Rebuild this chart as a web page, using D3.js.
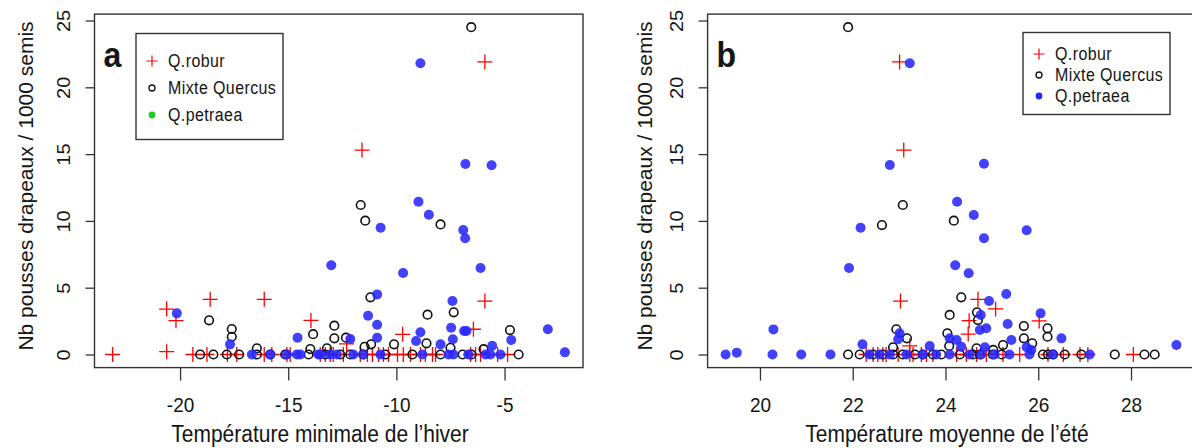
<!DOCTYPE html>
<html>
<head>
<meta charset="utf-8">
<script src="https://cdn.jsdelivr.net/npm/d3@7"></script>
<style>
  body { margin: 0; background: #fff; }
  svg text { font-family: "Liberation Sans", Arial, sans-serif; fill: #151515; }
</style>
</head>
<body>
<svg id="chart" width="1192" height="448"></svg>
<script>
// winter minimum temperature panel (a): [temperature, count]
var winterRobur = [
  [-23.12,0],[-20.62,0.21],[-20.62,3.4],[-20.19,2.53],[-18.61,4.13],[-16.11,4.13],[-13.95,2.55],
  [-11.59,15.3],[-5.91,21.9],[-5.91,4.0],[-6.44,1.89],[-9.71,1.51],[-12.3,0.8],
  [-19.41,0],[-18.76,0],[-17.81,0],[-17.38,0],[-16.11,0],[-15.76,0],[-15.06,0],[-14.91,0],
  [-13.29,0],[-13.06,0],[-13.52,0],[-12.92,0],[-12.45,0],[-11.67,0],[-11.34,0],[-11.11,0],
  [-10.83,0],[-10.6,0],[-10.37,0],[-9.95,0],[-9.68,0],[-9.35,0],[-8.89,0],[-8.66,0],[-8.33,0],
  [-8.19,0],[-6.57,0],[-6.34,0],[-6.11,0],[-5.32,0],[-4.86,0]
];
var winterMixte = [
  [-6.54,24.5],[-11.65,11.19],[-11.44,10.02],[-7.96,9.74],[-11.2,4.28],[-7.35,3.16],[-8.56,2.98],
  [-12.87,2.16],[-13.85,1.52],[-4.75,1.83],[-12.87,1.21],[-12.33,1.26],[-8.61,0.84],[-7.5,0.5],
  [-10.11,0.76],[-11.17,0.76],[-11.47,0.58],[-18.66,2.56],[-17.61,1.91],[-17.61,1.33],
  [-16.45,0.46],[-13.98,0.41],[-13.21,0.46],
  [-19.07,0],[-18.46,0],[-17.84,0],[-17.27,0],[-16.45,0],[-15.83,0],[-15.14,0],[-14.06,0],
  [-13.29,0],[-12.59,0],[-12.13,0],[-11.53,0],[-10.51,0],[-9.26,0],[-7.96,0],[-6.94,0],
  [-6.53,0],[-5.97,0.4],[-4.35,0]
];
var winterPetraea = [
  [-8.89,21.8],[-6.81,14.26],[-5.6,14.16],[-8.98,11.44],[-8.5,10.46],[-10.73,9.49],[-6.91,9.32],
  [-6.82,8.7],[-13.01,6.68],[-9.69,6.1],[-6.11,6.47],[-10.89,4.5],[-7.41,4.0],[-11.31,2.9],
  [-10.89,2.23],[-7.47,2.0],[-6.87,1.76],[-6.76,1.76],[-3.0,1.89],[-4.69,1.09],[-12.13,1.16],
  [-10.89,1.26],[-8.89,1.66],[-9.09,1.01],[-7.96,0.76],[-7.39,1.14],[-5.57,0.66],[-2.21,0.16],
  [-20.15,3.08],[-17.69,0.76],[-14.57,1.26],
  [-16.68,0],[-15.83,0],[-15.06,0],[-14.6,0],[-13.52,0],[-12.75,0],[-14.44,0],[-13.61,0],
  [-13.06,0],[-11.99,0],[-11.53,0],[-10.74,0],[-8.8,0],[-7.59,0],[-7.36,0],[-6.67,0],
  [-5.88,0],[-5.65,0],[-5.19,0]
];

// summer mean temperature panel (b)
var summerRobur = [
  [23.01,21.9],[23.1,15.3],[23.03,4.0],[24.7,4.13],[25.08,3.41],[24.51,2.53],[24.49,1.53],
  [26.02,2.51],[23.23,0.64],
  [22.29,0],[22.44,0],[22.54,0],[22.72,0],[22.98,0],[23.3,0],[23.48,0],[23.59,0],[22.65,0],
  [23.23,0],[23.73,0],[24.24,0],[24.45,0],[24.67,0],[24.88,0],[25.24,0],[25.6,0],[26.21,0],
  [26.54,0],[26.9,0],[27.07,0],[28.05,0]
];
var summerMixte = [
  [21.9,24.5],[23.08,11.19],[24.18,10.02],[22.63,9.69],[24.34,4.28],[24.09,2.96],[24.68,3.16],
  [24.7,2.58],[24.04,1.59],[22.94,1.89],[23.17,1.21],[22.87,0.54],[25.69,2.13],[26.2,1.96],
  [26.2,1.33],[25.69,1.21],[25.87,0.84],[25.24,0.71],[24.08,0.64],[24.67,0.46],[25.03,0.34],
  [21.9,0],
  [22.15,0],[22.44,0],[22.65,0],[22.87,0],[23.08,0],[23.34,0],[23.51,0],[23.73,0],[23.91,0],
  [24.31,0],[24.59,0],[24.74,0],[25.02,0],[25.21,0],[26.1,0],[26.21,0],[26.32,0],[26.57,0],
  [26.93,0],[27.65,0],[28.29,0],[28.51,0]
];
var summerPetraea = [
  [23.23,21.8],[22.8,14.18],[24.83,14.28],[24.25,11.44],[24.61,10.44],[22.17,9.49],[25.75,9.3],
  [24.83,8.7],[21.92,6.47],[24.21,6.68],[24.5,6.08],[24.94,4.0],[25.31,4.53],[24.76,2.96],
  [24.74,1.83],[24.88,1.96],[24.09,1.21],[24.24,1.09],[25.34,2.28],[26.05,3.08],[26.5,1.21],
  [25.42,1.09],[25.75,0.54],[28.98,0.71],[23.66,0.64],[24.34,0.58],[24.85,0.54],[20.29,1.88],
  [19.26,0],[19.5,0.14],[20.27,0],[20.89,0],[21.52,0],[22.21,0.76],[23.01,1.59],[22.98,1.14],
  [25.85,0.34],
  [22.36,0],[22.58,0],[22.8,0],[23.16,0],[23.51,0],[23.8,0],[24.09,0],[24.52,0],[24.77,0],
  [25.06,0],[25.38,0],[25.81,0],[26.32,0],[27.11,0]
];

var winterTicks = [-20, -15, -10, -5];
var summerTicks = [20, 22, 24, 26, 28];
var yTicks = [0, 5, 10, 15, 20, 25];
var legendLabels = ["Q.robur", "Mixte Quercus", "Q.petraea"];
var yTitle = "Nb pousses drapeaux / 1000 semis";

var svg = d3.select("svg#chart");
svg.append("rect").attr("width", 1192).attr("height", 448).attr("fill", "#fff");

// the source image is a bit stretched vertically, so flat text gets taller glyphs
var stretch = "scale(1,1.1)";

// R style range: data extent plus 4% on each side
function pad(ext) {
  var d = ext[1] - ext[0];
  return [ext[0] - 0.04 * d, ext[1] + 0.04 * d];
}

function drawPanel(p) {
  var all = p.robur.concat(p.mixte, p.petraea);
  var x = d3.scaleLinear()
      .domain(pad(d3.extent(all, function(d) { return d[0]; })))
      .range([p.left, p.right]);
  var y = d3.scaleLinear()
      .domain(pad(d3.extent(all, function(d) { return d[1]; })))
      .range([367.6, 14.1]);

  var g = svg.append("g");

  // points: crosses, open circles, then filled dots on top
  g.append("g").selectAll("path")
      .data(p.robur).enter().append("path")
      .attr("d", function(d) {
        var cx = x(d[0]), cy = y(d[1]);
        return "M" + (cx - 7.5) + "," + cy + "H" + (cx + 7.5) + "M" + cx + "," + (cy - 7.5) + "V" + (cy + 7.5);
      })
      .attr("stroke", "#ff0000").attr("stroke-width", 1.3).attr("fill", "none");

  g.append("g").selectAll("circle")
      .data(p.mixte).enter().append("circle")
      .attr("cx", function(d) { return x(d[0]); })
      .attr("cy", function(d) { return y(d[1]); })
      .attr("r", 4.3)
      .attr("fill", "none").attr("stroke", "#111").attr("stroke-width", 1.6);

  g.append("g").selectAll("circle")
      .data(p.petraea).enter().append("circle")
      .attr("cx", function(d) { return x(d[0]); })
      .attr("cy", function(d) { return y(d[1]); })
      .attr("r", 5)
      .attr("fill", "#2727ff").attr("fill-opacity", 0.88);

  // axes
  var xAxis = g.append("g")
      .attr("transform", "translate(0,367.6)")
      .call(d3.axisBottom(x).tickValues(p.ticks).tickSize(13).tickFormat(function(d) { return d; }));
  var yAxis = g.append("g")
      .attr("transform", "translate(" + p.left + ",0)")
      .call(d3.axisLeft(y).tickValues(yTicks).tickSize(9));
  [xAxis, yAxis].forEach(function(a) {
    a.select(".domain").remove();
    a.selectAll("line").attr("stroke", "#333").attr("stroke-width", 1.3);
    a.selectAll("text").attr("font-size", 19).attr("fill", "#151515")
        .style("font-family", "'Liberation Sans', Arial, sans-serif");
  });
  xAxis.selectAll("text").attr("y", 0).attr("dy", null)
      .attr("transform", "translate(0,44.4) " + stretch);
  yAxis.selectAll("text")
      .attr("x", null).attr("dy", null)
      .attr("text-anchor", "middle")
      .attr("transform", "translate(-24.5,0) rotate(-90) scale(1.05,1)");

  // box
  g.append("rect")
      .attr("x", p.left).attr("y", 14.1)
      .attr("width", p.right - p.left).attr("height", 367.6 - 14.1)
      .attr("fill", "none").attr("stroke", "#333").attr("stroke-width", 1.4);

  // titles
  g.append("text")
      .attr("transform", "translate(" + p.titleX + ",442) " + stretch)
      .attr("text-anchor", "middle").attr("font-size", 21)
      .text(p.title);
  g.append("text")
      .attr("transform", "translate(" + p.yTitleX + ",186) rotate(-90)")
      .attr("text-anchor", "middle").attr("font-size", 21)
      .text(yTitle);
  g.append("text")
      .attr("transform", "translate(" + (p.left + 9) + ",67) " + stretch)
      .attr("font-size", 32).attr("font-weight", "bold")
      .text(p.label);

  // legend
  var L = p.legend;
  g.append("rect")
      .attr("x", L.x).attr("y", L.y).attr("width", L.w).attr("height", L.h)
      .attr("fill", "#fff").attr("stroke", "#333").attr("stroke-width", 1.4);
  legendLabels.forEach(function(lab, i) {
    var cy = L.rows[i], cx = L.x + 16;
    if (i === 0) {
      g.append("path")
          .attr("d", "M" + (cx - 5.5) + "," + cy + "H" + (cx + 5.5) + "M" + cx + "," + (cy - 5.5) + "V" + (cy + 5.5))
          .attr("stroke", "#ff0000").attr("stroke-width", 1.2);
    } else if (i === 1) {
      g.append("circle").attr("cx", cx).attr("cy", cy).attr("r", 3)
          .attr("fill", "none").attr("stroke", "#111").attr("stroke-width", 1.3);
    } else {
      g.append("circle").attr("cx", cx).attr("cy", cy).attr("r", 3.4)
          .attr("fill", L.dot);
    }
    g.append("text")
        .attr("transform", "translate(" + (L.x + 32) + "," + (cy + 6) + ") " + stretch)
        .attr("font-size", 16).attr("letter-spacing", 0.4)
        .text(lab);
  });
}

drawPanel({
  robur: winterRobur, mixte: winterMixte, petraea: winterPetraea,
  left: 94.5, right: 583, ticks: winterTicks,
  title: "Température minimale de l’hiver", titleX: 320, yTitleX: 33, label: "a",
  legend: { x: 136, y: 33.5, w: 147, h: 106, rows: [61, 88, 115], dot: "#22cc22" }
});

drawPanel({
  robur: summerRobur, mixte: summerMixte, petraea: summerPetraea,
  left: 707.6, right: 1194.5, ticks: summerTicks,
  title: "Température moyenne de l’été", titleX: 947, yTitleX: 652, label: "b",
  legend: { x: 1023, y: 32.5, w: 147, h: 82, rows: [54, 75, 96], dot: "#2727ff" }
});
</script>
</body>
</html>
